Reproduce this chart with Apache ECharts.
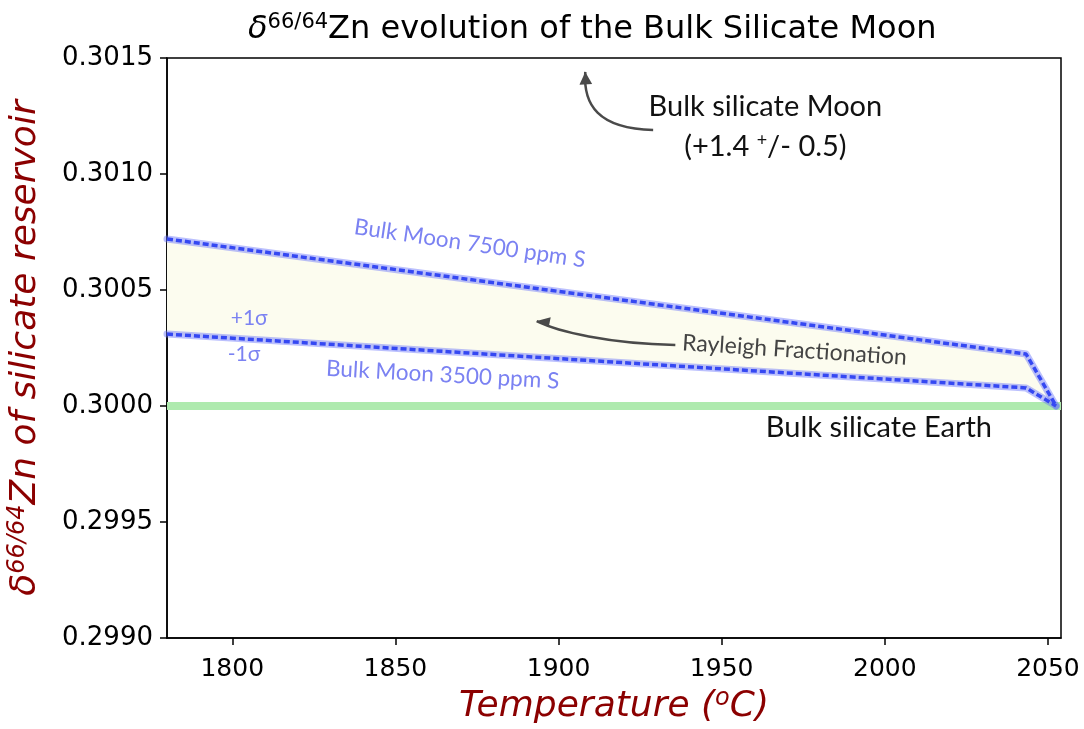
<!DOCTYPE html>
<html>
<head>
<meta charset="utf-8">
<script src="https://cdn.jsdelivr.net/npm/echarts@6/dist/echarts.min.js"></script>
<style>
  html, body { margin: 0; background: #fff; }
  #chart { width: 1084px; height: 729px; }
</style>
</head>
<body>
<div id="chart"></div>
<script>
// temperature ticks (°C)
const tempTicks = [1800, 1850, 1900, 1950, 2000, 2050];

// Bulk Moon 7500 ppm S (+1 sigma)
const upperT = [1780, 2043.3, 2052.5];
const upperD = [0.30072, 0.300224, 0.30000];

// Bulk Moon 3500 ppm S (-1 sigma)
const lowerT = [1780, 2043.3, 2052.5];
const lowerD = [0.30031, 0.300078, 0.30000];

// Bulk silicate Earth reference
const earthT = [1780, 2054];
const earthD = [0.30000, 0.30000];

const chart = echarts.init(document.getElementById('chart'), null, { renderer: 'canvas' });

const pairs = (xs, ys) => xs.map((x, i) => [x, ys[i]]);
const labelFont = 'Lato, "Open Sans", sans-serif';
const blueText = '#7b82f2';

const haloLine = (xs, ys) => ({
    type: 'line', data: pairs(xs, ys), symbol: 'none', silent: true, z: 3,
    lineStyle: { color: 'rgba(105,115,250,0.45)', width: 7, cap: 'round', join: 'round' }
});
const dashLine = (xs, ys) => ({
    type: 'line', data: pairs(xs, ys), symbol: 'none', silent: true, z: 4,
    lineStyle: { color: '#3548f2', width: 3.5, type: [6, 3] }
});

const option = {
    animation: false,
    title: {
        text: '{d|δ}{sup|66/64}{n|Zn evolution of the Bulk Silicate Moon}',
        left: 243, top: 7,
        textStyle: {
            rich: {
                d: { fontFamily: 'DejaVu Sans', fontStyle: 'italic', fontWeight: 'normal', fontSize: 32, color: '#000' },
                sup: { fontFamily: 'DejaVu Sans', fontWeight: 'normal', fontSize: 21, color: '#000', padding: [0, 0, 15, 0] },
                n: { fontFamily: 'DejaVu Sans', fontWeight: 'normal', fontSize: 32, color: '#000' }
            }
        }
    },
    grid: {
        left: 167, right: 23, top: 58, bottom: 91, outerBoundsMode: 'none',
        show: true, borderColor: '#000', borderWidth: 1.5, backgroundColor: '#fff'
    },
    xAxis: {
        type: 'value', min: 1780, max: 2054,
        name: '{t|Temperature (}{s|o}{t|C)}',
        nameLocation: 'middle', nameGap: 47,
        nameTextStyle: {
            rich: {
                t: { fontFamily: 'DejaVu Sans', fontStyle: 'italic', fontSize: 36, color: '#8b0000' },
                s: { fontFamily: 'DejaVu Sans', fontStyle: 'italic', fontSize: 24, color: '#8b0000', padding: [0, 0, 16, 0] }
            }
        },
        axisLine: { lineStyle: { color: '#000', width: 1.5 } },
        axisTick: { show: true, length: 7, lineStyle: { color: '#000', width: 1.5 }, customValues: tempTicks },
        axisLabel: {
            customValues: tempTicks, fontFamily: 'DejaVu Sans', fontSize: 25, color: '#000', margin: 19,
            formatter: v => String(v)
        },
        splitLine: { show: false }
    },
    yAxis: {
        type: 'value', min: 0.2990, max: 0.3015, interval: 0.0005,
        name: '{d|δ}{sup|66/64}{n|Zn of silicate reservoir}',
        nameLocation: 'middle', nameGap: 121, nameRotate: 90,
        nameTextStyle: {
            rich: {
                d: { fontFamily: 'DejaVu Sans', fontStyle: 'italic', fontSize: 36, color: '#8b0000' },
                sup: { fontFamily: 'DejaVu Sans', fontStyle: 'italic', fontSize: 24, color: '#8b0000', padding: [0, 0, 16, 0] },
                n: { fontFamily: 'DejaVu Sans', fontStyle: 'italic', fontSize: 36, color: '#8b0000' }
            }
        },
        axisLine: { show: true, lineStyle: { color: '#000', width: 1.5 } },
        axisTick: { show: true, length: 7, lineStyle: { color: '#000', width: 1.5 } },
        axisLabel: {
            fontFamily: 'DejaVu Sans', fontSize: 26, color: '#000', margin: 14,
            formatter: v => v.toFixed(4)
        },
        splitLine: { show: false }
    },
    series: [
        {
            // area between the two model curves
            type: 'custom', silent: true, z: 1,
            data: [[upperT[0], upperD[0]]],
            renderItem: (params, api) => {
                const top = upperT.map((t, i) => api.coord([t, upperD[i]]));
                const bot = lowerT.map((t, i) => api.coord([t, lowerD[i]])).reverse();
                return { type: 'polygon', shape: { points: top.concat(bot) }, style: { fill: '#fcfcef' } };
            }
        },
        {
            type: 'line', data: pairs(earthT, earthD), symbol: 'none', silent: true, z: 2,
            lineStyle: { color: '#aeeaae', width: 8 }
        },
        haloLine(upperT, upperD), dashLine(upperT, upperD),
        haloLine(lowerT, lowerD), dashLine(lowerT, lowerD)
    ]
};

chart.setOption(option);

// annotations, anchored in data space
const px = (t, d) => chart.convertToPixel({ gridIndex: 0 }, [t, d]);

function textAt(t, d, text, size, color, rot, rich) {
    const p = px(t, d);
    return {
        type: 'text', x: p[0], y: p[1], rotation: rot || 0, z: 10, silent: true,
        style: {
            text: text, font: size + 'px ' + labelFont, fill: color,
            align: 'center', verticalAlign: 'middle', rich: rich
        }
    };
}

function curveArrow(a, c1, c2, b, head1, head2) {
    const A = px(a[0], a[1]), C1 = px(c1[0], c1[1]), C2 = px(c2[0], c2[1]), B = px(b[0], b[1]);
    const H1 = px(head1[0], head1[1]), H2 = px(head2[0], head2[1]);
    return [
        {
            type: 'bezierCurve', z: 10, silent: true,
            shape: { x1: A[0], y1: A[1], cpx1: C1[0], cpy1: C1[1], cpx2: C2[0], cpy2: C2[1], x2: B[0], y2: B[1] },
            style: { stroke: '#4a4a4a', lineWidth: 2.5, fill: null }
        },
        {
            type: 'polygon', z: 10, silent: true,
            shape: { points: [B, H1, H2] },
            style: { fill: '#4a4a4a' }
        }
    ];
}

const graphics = [
    textAt(1963.4, 0.301289, 'Bulk silicate Moon', 29, '#111'),
    textAt(1963.4, 0.301116, '{a|(+1.4 }{s|+}{a|/- 0.5)}', 29, '#111', 0, {
        a: { font: '29px ' + labelFont, fill: '#111' },
        s: { font: '18px ' + labelFont, fill: '#111', padding: [0, 0, 14, 0] }
    }),
    textAt(1998.2, 0.299905, 'Bulk silicate Earth', 29, '#111'),
    textAt(1872.8, 0.300700, 'Bulk Moon 7500 ppm S', 22.5, blueText, -0.145),
    textAt(1864.5, 0.300134, 'Bulk Moon 3500 ppm S', 22.5, blueText, -0.055),
    textAt(1805.2, 0.300380, '+1σ', 21, blueText),
    textAt(1803.6, 0.300222, '-1σ', 21, blueText),
    textAt(1972.3, 0.300241, 'Rayleigh Fractionation', 23, '#444', -0.065)
];

// arrow towards the BSM value (off the top of the plot)
curveArrow(
    [1929.0, 0.301190], [1912.0, 0.301195], [1907.5, 0.301300], [1908.2, 0.301440],
    [1906.4, 0.301385], [1910.3, 0.301388]
).forEach(g => graphics.push(g));

// Rayleigh fractionation arrow
curveArrow(
    [1935.8, 0.300263], [1915.0, 0.300270], [1900.0, 0.300320], [1893.3, 0.300366],
    [1897.6, 0.300383], [1897.0, 0.300341]
).forEach(g => graphics.push(g));

chart.setOption({ graphic: graphics });

window.addEventListener('resize', chart.resize);
</script>
</body>
</html>
